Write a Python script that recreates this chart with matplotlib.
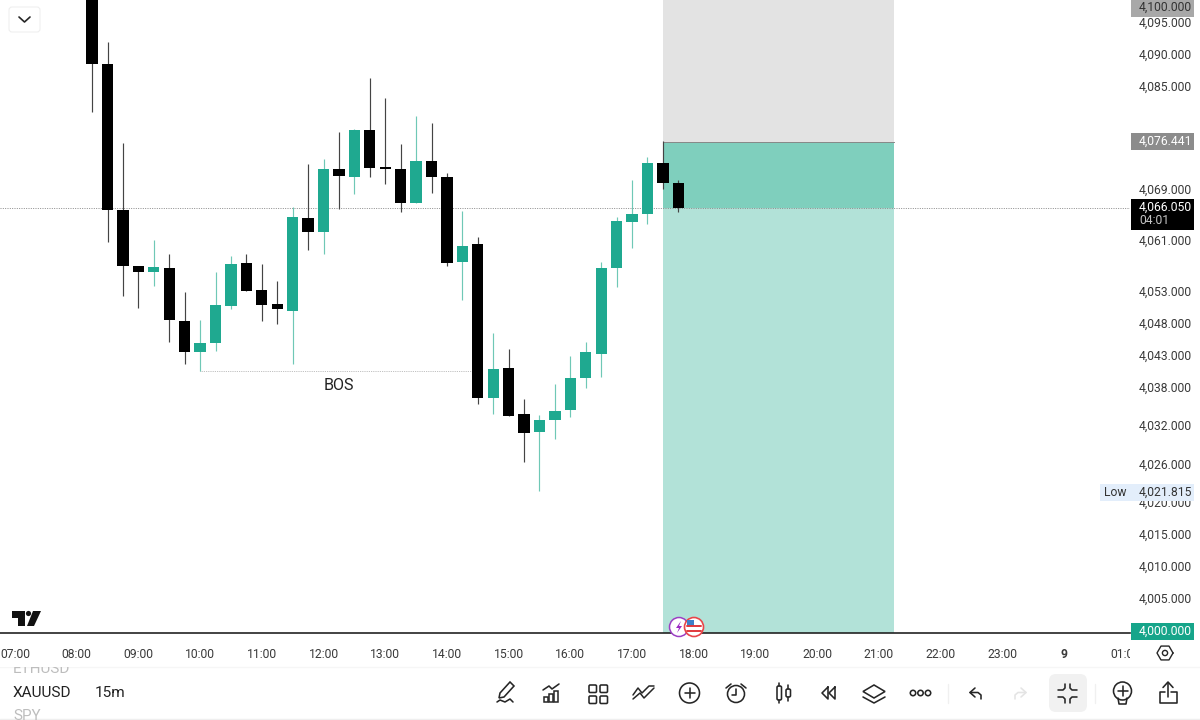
import matplotlib
matplotlib.use("Agg")
import matplotlib.pyplot as plt
import numpy as np
from matplotlib.patches import Circle, FancyBboxPatch, Polygon, Rectangle
from matplotlib.transforms import ScaledTranslation

plt.rcParams['font.family'] = ['Roboto', 'DejaVu Sans']

# candle data
times = ["08:15", "08:30", "08:45", "09:00", "09:15", "09:30", "09:45", "10:00",
         "10:15", "10:30", "10:45", "11:00", "11:15", "11:30", "11:45", "12:00",
         "12:15", "12:30", "12:45", "13:00", "13:15", "13:30", "13:45", "14:00",
         "14:15", "14:30", "14:45", "15:00", "15:15", "15:30", "15:45", "16:00",
         "16:15", "16:30", "16:45", "17:00", "17:15", "17:30", "17:45"]
opens = [4104.00, 4088.67, 4065.78, 4057.08, 4056.14, 4056.72, 4048.48, 4043.55,
         4045.05, 4050.83, 4057.45, 4053.23, 4051.05, 4050.05, 4064.48, 4062.30,
         4072.23, 4070.98, 4078.23, 4072.45, 4072.23, 4066.88, 4073.44, 4070.89,
         4057.61, 4060.42, 4036.41, 4041.05, 4033.86, 4031.05, 4032.92, 4034.48,
         4039.48, 4043.28, 4056.77, 4063.95, 4065.16, 4073.17, 4070.05]
highs = [4106.00, 4092.03, 4076.25, 4057.08, 4061.09, 4058.86, 4052.92, 4048.59,
         4056.14, 4058.64, 4058.91, 4057.34, 4054.73, 4066.20, 4072.97, 4073.70,
         4077.92, 4078.39, 4086.45, 4083.23, 4076.05, 4080.47, 4079.42, 4071.61,
         4065.67, 4061.52, 4046.52, 4044.06, 4036.20, 4033.75, 4038.59, 4043.02,
         4045.20, 4057.61, 4064.64, 4070.47, 4074.02, 4076.56, 4070.47]
lows = [4081.09, 4060.83, 4052.39, 4050.47, 4053.95, 4045.11, 4041.67, 4040.67,
        4043.75, 4050.31, 4053.13, 4048.44, 4047.97, 4041.67, 4059.53, 4058.91,
        4065.94, 4068.23, 4070.94, 4069.84, 4065.42, 4066.88, 4068.39, 4057.03,
        4051.72, 4035.42, 4033.86, 4033.64, 4026.36, 4021.815, 4029.95, 4033.39,
        4038.02, 4039.64, 4053.70, 4059.89, 4063.64, 4069.02, 4065.42]
closes = [4088.67, 4065.78, 4057.03, 4056.09, 4056.83, 4048.55, 4043.55, 4045.05,
          4050.94, 4057.30, 4053.17, 4050.89, 4050.27, 4064.73, 4062.30, 4072.14,
          4071.09, 4078.23, 4072.27, 4072.14, 4066.83, 4073.44, 4070.89, 4057.45,
          4060.20, 4036.36, 4040.94, 4033.64, 4030.98, 4032.97, 4034.42, 4039.53,
          4043.55, 4056.77, 4064.02, 4065.11, 4073.17, 4069.95, 4066.05]

hour_ticks = [7, 8, 9, 10, 11, 12, 13, 14, 15, 16, 17, 18, 19, 20, 21, 22, 23, 24, 25]
hour_labels = ["07:00", "08:00", "09:00", "10:00", "11:00", "12:00", "13:00", "14:00",
               "15:00", "16:00", "17:00", "18:00", "19:00", "20:00", "21:00", "22:00",
               "23:00", "9", "01:00"]
price_ticks = [4095, 4090, 4085, 4069, 4061, 4053, 4048, 4043, 4038, 4032, 4026,
               4020, 4015, 4010, 4005]

# long position tool
pos_start, pos_end = 17.5, 21.25
stop_price, entry_price, last_price = 4100.0, 4076.441, 4066.05
bos_start, bos_end, bos_price = 10.0, 14.45, 4040.65

GREEN = "#1fa990"
FS = 8.75
hours = np.array([int(t[:2]) + int(t[3:]) / 60 for t in times])
opens, highs, lows, closes = map(np.array, (opens, highs, lows, closes))
up = closes >= opens

fig = plt.figure(figsize=(12, 7.2), dpi=100)
ax = fig.add_axes([0, 1 - 633 / 720, 1130 / 1200, 633 / 720])
ax.set_xlim(6.757, 25.07)
ax.set_ylim(3999.6875, 4098.594)
bottom = ax.get_ylim()[0]

# position boxes
ax.fill_between([pos_start, pos_end], entry_price, stop_price, color="#e3e3e3", lw=0, zorder=1)
ax.fill_between([pos_start, pos_end], bottom, entry_price, color="#b2e2d8", lw=0, zorder=1)
ax.fill_between([pos_start, pos_end], last_price, entry_price, color="#7fcfbd", lw=0, zorder=1)
ax.plot([pos_start, pos_end], [entry_price, entry_price], color="#888888", lw=0.7, zorder=2)

ax.axhline(last_price, color="#8a8a8a", lw=0.7, ls=(0, (1, 1.4)), zorder=2)
ax.plot([bos_start, bos_end], [bos_price, bos_price], color="#aaaaaa", lw=0.6,
        ls=(0, (1, 1.2)), zorder=2)
ax.text(12.25, 4038.3, "BOS", fontsize=11.6, color="#222222", ha="center", va="center")

# candles
ax.vlines(hours[~up], lows[~up], highs[~up], color="#444444", lw=0.85, zorder=3)
ax.vlines(hours[up], lows[up], highs[up], color="#6fc8b6", lw=0.85, zorder=3)
ax.bar(hours[~up], closes[~up] - opens[~up], bottom=opens[~up], width=0.183, color="black", zorder=4)
ax.bar(hours[up], closes[up] - opens[up], bottom=opens[up], width=0.183, color=GREEN, zorder=4)

for s in ("top", "left", "right"):
    ax.spines[s].set_visible(False)
ax.spines["bottom"].set_color("#222222")
ax.spines["bottom"].set_linewidth(1.2)
ax.set_xticks(hour_ticks, hour_labels)
ax.yaxis.tick_right()
ax.set_yticks(price_ticks, [f"{p:,.3f}" for p in price_ticks])
ax.tick_params(axis="x", length=0, pad=10.8, labelsize=FS, labelcolor="#3a3a3a")
ax.tick_params(axis="y", length=0, pad=6.3, labelsize=FS, labelcolor="#3a3a3a")
ax.get_xticklabels()[17].set_fontweight("bold")
up_1px = ScaledTranslation(0, 1 / 100, fig.dpi_scale_trans)
for lab in ax.get_yticklabels():
    lab.set_transform(lab.get_transform() + up_1px)

# everything around the chart is drawn in pixel coordinates
ui = fig.add_axes([0, 0, 1, 1], zorder=5)
ui.set_xlim(0, 1200)
ui.set_ylim(720, 0)
ui.axis("off")
ui.patch.set_alpha(0)
INK = "#262626"


def tag(y0, y1, color, text, text_color="white", y=None, x0=1131):
    ui.add_patch(Rectangle((x0, y0), 1194 - x0, y1 - y0, color=color, lw=0))
    ui.text(1139, (y0 + y1) / 2 if y is None else y, text, color=text_color, fontsize=FS,
            ha="left", va="center")


def line(xs, ys, color=INK, lw=1.15):
    ui.plot(xs, ys, color=color, lw=lw, solid_capstyle="round", solid_joinstyle="round")


def rbox(x, y, w, h, r, fc="none", ec=INK, lw=1.15):
    ui.add_patch(FancyBboxPatch((x + r, y + r), w - 2 * r, h - 2 * r, boxstyle=f"round,pad={r}",
                                fc=fc, ec=ec, lw=lw))


# price tags
tag(0, 17, "#a8a8a8", "4,100.000", "#333333", y=7)
tag(133, 150, "#8c8c8c", "4,076.441")
ui.add_patch(Rectangle((1131, 199), 63, 31, color="black", lw=0))
ui.text(1139, 207, "4,066.050", color="white", fontsize=FS, va="center")
ui.text(1139, 220, "04:01", color="#c4c4c4", fontsize=FS, va="center")
tag(484, 501, "#e3eefb", "4,021.815", "#333333", x0=1100)
ui.text(1115, 492.5, "Low", color="#333333", fontsize=FS, ha="center", va="center")
tag(623, 640, "#16a58a", "4,000.000")

# dropdown button
rbox(9, 7, 31, 25, 3, fc="white", ec="#efefef", lw=0.8)
line([19, 24.5, 30], [17, 22, 17], lw=1.2)

# logo
ui.add_patch(Polygon([(12, 611), (25, 611), (25, 626), (18, 626), (18, 618), (12, 618)], color="#111111", lw=0))
ui.add_patch(Circle((28.5, 613.5), 2.6, color="#111111", lw=0))
ui.add_patch(Polygon([(33, 611), (41, 611), (34, 626), (27, 626)], color="#111111", lw=0))

# event markers
ui.add_patch(Circle((679, 627), 9.5, fc="white", ec="#9c3fc4", lw=1.1))
ui.add_patch(Polygon([(681, 621), (676, 628), (679, 628), (677, 633), (682, 626), (679, 626)], color="#9c27c4", lw=0))
ui.add_patch(Circle((694, 627), 9.5, fc="white", ec="#e8464a", lw=1.2))
for y in (626, 630.5):
    line([687, 701], [y, y], color="#e0383c", lw=1.4)
ui.add_patch(Rectangle((686.5, 620), 7.5, 5.5, color="#3f7fc8", lw=0))

# cut off date label and settings
ui.add_patch(Rectangle((1130, 642), 30, 22, color="white", lw=0))
hx = 1165 + 8 * np.cos(np.radians(np.arange(0, 361, 60)))
hy = 653 + 8 * np.sin(np.radians(np.arange(0, 361, 60)))
line(hx, hy, lw=1)
ui.add_patch(Circle((1165, 653), 2.6, fc="none", ec=INK, lw=1))

# bottom bar, the symbol list is cut by its top edge
ui.text(13, 669, "ETHUSD", fontsize=11, color="#bdbdbd", va="center")
ui.add_patch(Rectangle((0, 660.5), 80, 6.5, color="white", lw=0, zorder=3))
line([0, 1200], [667, 667], color="#f6f6f6", lw=1)
line([0, 1200], [718.5, 718.5], color="#efefef", lw=1)
ui.text(13, 693, "XAUUSD", fontsize=11.1, color="#222222", va="center")
ui.text(95, 693, "15m", fontsize=11.1, color="#222222", va="center")
ui.text(13, 716, "SPY", fontsize=11, color="#bdbdbd", va="center")

# pencil
ui.add_patch(Polygon([(500, 693), (510, 682), (514, 686), (504, 697), (499, 698)], fc="none", ec=INK, lw=1.15))
line([497, 500, 505, 510, 513], [702, 700, 702, 699, 702])
# indicators
line([543, 549, 552, 559], [690, 686, 689, 684])
for x, h in ((544, 5), (549, 8), (554, 11)):
    ui.add_patch(Rectangle((x, 702 - h), 4, h, fc="none", ec=INK, lw=1.1))
# templates
for x in (589, 600):
    for y in (685, 696):
        rbox(x, y, 7.5, 7.5, 1.2)
# compare
line([633, 640, 644, 650, 654], [699, 693, 698, 692, 688], lw=1.1)
line([633, 638, 642, 649, 654], [695, 688, 693, 686, 686], lw=1.1)
# add
ui.add_patch(Circle((689.5, 693), 10, fc="none", ec=INK, lw=1.15))
line([684.5, 694.5], [693, 693])
line([689.5, 689.5], [688, 698])
# alarm
ui.add_patch(Circle((736, 694), 8.5, fc="none", ec=INK, lw=1.15))
line([736, 736, 732], [689, 695, 695])
line([726, 731], [688, 684])
line([741, 746], [684, 688])
# candles
rbox(777, 686, 4.5, 14, 1.5)
line([779.2, 779.2], [683, 686])
line([779.2, 779.2], [700, 703])
rbox(786, 689, 4.5, 8, 1.5)
line([788.2, 788.2], [685, 689])
line([788.2, 788.2], [697, 701])
# rewind
line([828, 822, 828, 828], [687, 693, 699, 687])
line([835, 829, 835, 835], [687, 693, 699, 687])
# layers
ui.add_patch(Polygon([(874, 685), (885, 691.5), (874, 698), (863, 691.5)], fc="none", ec=INK, lw=1.15))
line([863, 874, 885], [697, 703, 697])
# more
for x in (913, 920.5, 928):
    ui.add_patch(Circle((x, 693), 2.7, fc="none", ec=INK, lw=1.15))
line([948, 948], [684, 703], color="#f0f0f0", lw=1)
# undo and redo
line([975, 970, 975], [688, 692.5, 697])
line([970, 978, 981, 981], [692.5, 692.5, 695, 699])
line([1021, 1026, 1021], [688, 692.5, 697], color="#e4e4e4")
line([1026, 1018, 1015, 1015], [692.5, 692.5, 695, 699], color="#e4e4e4")
# compress, active button
rbox(1049, 674, 38, 38, 7, fc="#f1f1f1", ec="none", lw=0)
line([1058, 1063, 1065, 1065], [690, 690, 688, 684])
line([1077, 1072, 1070, 1070], [690, 690, 688, 684])
line([1058, 1063, 1065, 1065], [697, 697, 699, 703])
line([1077, 1072, 1070, 1070], [697, 697, 699, 703])
line([1095, 1095], [684, 703], color="#f0f0f0", lw=1)
# idea
ui.add_patch(Circle((1122.5, 691), 9, fc="none", ec=INK, lw=1.15))
line([1117.5, 1127.5], [691, 691])
line([1122.5, 1122.5], [686, 696])
line([1118, 1119, 1126, 1127], [698, 704, 704, 698])
# share
line([1165, 1159.5, 1159.5, 1177, 1177, 1171], [692, 692, 703, 703, 692, 692])
line([1168, 1168], [683, 697])
line([1163, 1168, 1173], [687.5, 682, 687.5])

fig.savefig("out.png", dpi=100, facecolor="white")
